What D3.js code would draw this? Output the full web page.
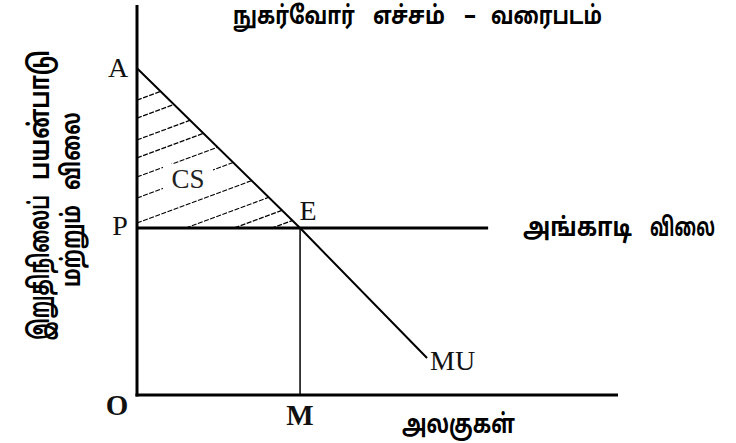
<!DOCTYPE html>
<html><head><meta charset="utf-8">
<script src="https://cdn.jsdelivr.net/npm/d3@7"></script>
<style>body{margin:0;background:#fff}svg{display:block}</style>
</head><body>
<svg id="c" width="736" height="443"></svg>
<script>
// ---- data (quantity, price in chart units) ----
const muCurve = [ {q:0, p:83.8}, {q:33.9, p:42.8}, {q:60.3, p:9.5} ];
const marketPrice = 42.8;
const marketEnd = 73;
const equilibriumQ = 33.9;
const hatchIntercepts = [75.6, 71, 65.4, 60.8, 55.9, 50.5, 44.1, 38.2, 33.6, 30];
const hatchSlope = 0.456;
const pointLabels = ["A", "P", "E", "O", "M", "MU", "CS"];
const titleWords = ["நுகர்வோர்", "எச்சம்", "–", "வரைபடம்"];
const priceLineWords = ["அங்காடி", "விலை"];
const xAxisLabel = "அலகுகள்";
const yAxisWords = [["இறுதிநிலைப்", "பயன்பாடு"], ["மற்றும்", "விலை"]];

const svg = d3.select("#c");
const x = d3.scaleLinear().domain([0, 100]).range([137, 618]);
const y = d3.scaleLinear().domain([0, 100]).range([395, 5]);
const tamil = "'Noto Sans Tamil','Lohit Tamil','Latha','Noto Sans',sans-serif";
const serif = "'Liberation Serif','Times New Roman',serif";

// clip for hatch triangle
svg.append("clipPath").attr("id","tri").append("path")
  .attr("d", d3.line().x(d=>x(d.q)).y(d=>y(d.p))([muCurve[0], muCurve[1], {q:0,p:marketPrice}]) + "Z");

svg.append("g").attr("clip-path","url(#tri)").selectAll("line").data(hatchIntercepts).join("line")
  .attr("x1", x(0)).attr("y1", d=>y(d))
  .attr("x2", x(60)).attr("y2", d=>y(d + hatchSlope*60))
  .attr("stroke","#000").attr("stroke-width",1.2).attr("stroke-dasharray","5,1.5");

// CS label with white knock-out
const csQ = 10.6, csP = 53.1;
svg.append("rect").attr("x", x(csQ)-25).attr("y", y(csP)-24).attr("width", 50).attr("height", 29).attr("fill","#fff");
svg.append("text").attr("x", x(csQ)).attr("y", y(csP)).attr("text-anchor","middle")
  .attr("font-family", serif).attr("font-size", 27).attr("fill","#222").text(pointLabels[6]);

// MU curve
svg.append("path").attr("d", d3.line().x(d=>x(d.q)).y(d=>y(d.p))(muCurve))
  .attr("fill","none").attr("stroke","#000").attr("stroke-width",2);

// market price line
svg.append("line").attr("x1", x(0)).attr("x2", x(marketEnd)).attr("y1", y(marketPrice)).attr("y2", y(marketPrice))
  .attr("stroke","#000").attr("stroke-width",3);

// EM vertical
svg.append("line").attr("x1", x(equilibriumQ)).attr("x2", x(equilibriumQ)).attr("y1", y(marketPrice)).attr("y2", y(0))
  .attr("stroke","#000").attr("stroke-width",1.5);

// axes
svg.append("line").attr("x1", x(0)).attr("x2", x(0)).attr("y1", y(0)+1.5).attr("y2", y(100))
  .attr("stroke","#000").attr("stroke-width",3);
svg.append("line").attr("x1", x(0)-1.5).attr("x2", x(100)).attr("y1", y(0)).attr("y2", y(0))
  .attr("stroke","#000").attr("stroke-width",3);

// point labels
const lab = (t, px, py, size, bold, anchor) => svg.append("text").attr("x", px).attr("y", py)
  .attr("text-anchor", anchor || "middle").attr("font-family", serif).attr("font-size", size)
  .attr("font-weight", bold ? "bold" : "normal").attr("fill","#111").text(t);
lab(pointLabels[0], x(0)-19, y(muCurve[0].p)+9, 28, false);
lab(pointLabels[1], x(0)-17, y(marketPrice)+7, 28, false);
lab(pointLabels[2], x(equilibriumQ)+8, y(marketPrice)-8, 28, false);
lab(pointLabels[3], x(0)-20, y(0)+20, 29, true);
lab(pointLabels[4], x(equilibriumQ), y(0)+30, 29, true);
lab(pointLabels[5], x(muCurve[2].q)+3, y(muCurve[2].p)+12, 28, false, "start");

// Tamil texts: fit each word's advance width to a target span by horizontal scaling
function fitWord(t, a, b, base, size, rotate) {
  const el = svg.append("text").attr("font-family", tamil).attr("font-weight","bold")
    .attr("font-size", size).attr("fill","#000").text(t);
  const w = el.node().getComputedTextLength();
  const sx = Math.abs(b - a) / w;
  if (rotate) {
    // reading upward: a = bottom screen y, b = top screen y, base = screen x of baseline
    el.attr("transform", `translate(${base},${a}) rotate(-90) scale(${sx},1)`);
  } else {
    el.attr("transform", `translate(${a},${base}) scale(${sx},1)`);
  }
  return el;
}
fitWord(titleWords[0], 233, 355, 24, 25);
fitWord(titleWords[1], 373, 445, 24, 25);
fitWord(titleWords[2], 464, 476, 24, 25);
fitWord(titleWords[3], 491, 602, 24, 25);
fitWord(priceLineWords[0], 523, 632, y(marketPrice)+8, 26);
fitWord(priceLineWords[1], 650, 715, y(marketPrice)+8, 26);
fitWord(xAxisLabel, 402, 515, 433, 26);
fitWord(yAxisWords[0][0], 340, 195, 49, 28, true);
fitWord(yAxisWords[0][1], 180, 50, 49, 28, true);
fitWord(yAxisWords[1][0], 287, 205, 80, 26, true);
fitWord(yAxisWords[1][1], 190, 112, 80, 26, true);
</script>
</body></html>
